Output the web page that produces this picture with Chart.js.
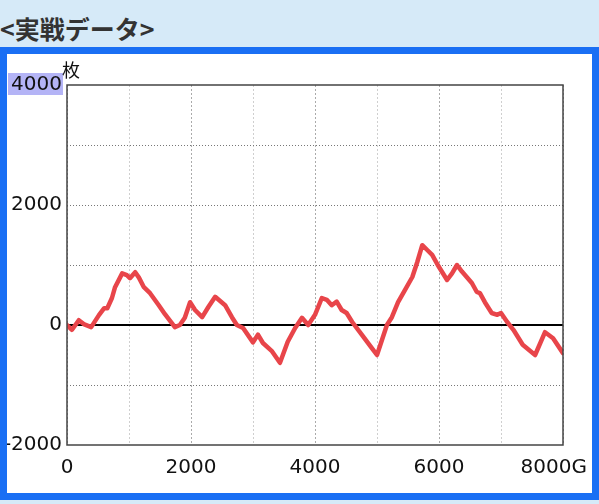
<!DOCTYPE html>
<html lang="ja">
<head>
<meta charset="utf-8">
<script src="https://cdn.jsdelivr.net/npm/chart.js@4.4.1/dist/chart.umd.min.js"></script>
<style>
  html, body { margin: 0; padding: 0; background: #d6eaf8; }
  #wrap { position: relative; width: 599px; height: 504px; overflow: hidden; }
  .title { position: absolute; left: 0; top: 0; padding-top: 10px; line-height: 28px;
           font: bold 25px "Noto Sans CJK JP", sans-serif; color: #333; white-space: nowrap; }
  .box { position: absolute; left: 0; top: 47px; width: 585px; height: 439px;
         border: 7px solid #1a6ff4; background: #fff; }
  .frame { position: absolute; left: 0; top: 47px; width: 585px; height: 439px;
           border: 7px solid #1a6ff4; z-index: 2; }
  #chart { position: absolute; left: 0; top: 0; z-index: 1; }
</style>
</head>
<body>
<div id="wrap">
  <div class="title">&lt;実戦データ&gt;</div>
  <div class="box"></div>
  <canvas id="chart" width="599" height="504"></canvas>
  <div class="frame"></div>
</div>
<script>
// game count (G) and coin balance (枚)
const games = [0, 80, 190, 270, 390, 515, 600, 650, 725, 775, 890, 965, 1015, 1100, 1160, 1240,
  1340, 1480, 1580, 1740, 1820, 1900, 1985, 2065, 2180, 2280, 2390, 2550, 2660, 2740, 2840,
  3000, 3080, 3160, 3300, 3435, 3560, 3680, 3790, 3890, 4000, 4110, 4190, 4270, 4350, 4430,
  4510, 4600, 4760, 4920, 5000, 5080, 5160, 5240, 5340, 5450, 5570, 5650, 5730, 5810, 5890,
  5980, 6130, 6210, 6290, 6370, 6530, 6610, 6660, 6740, 6850, 6940, 7000, 7100, 7200, 7350,
  7550, 7710, 7840, 8000];
const coins = [0, -80, 80, 15, -35, 165, 280, 280, 450, 630, 860, 830, 780, 880, 790, 630,
  530, 330, 180, -35, 0, 120, 380, 250, 130, 300, 470, 330, 130, 0, -50,
  -290, -160, -300, -430, -630, -280, -50, 120, 0, 170, 450, 420, 330, 390, 250,
  200, 50, -170, -390, -500, -250, 0, 130, 380, 580, 800, 1050, 1330, 1250, 1170,
  1000, 750, 860, 1000, 890, 700, 550, 530, 380, 200, 170, 200, 50, -80, -330,
  -500, -120, -220, -470];

const xTicks = [0, 2000, 4000, 6000, 8000];
const xLabels = ["0", "2000", "4000", "6000", "8000G"];
const yTicks = [4000, 2000, 0, -2000];
const yLabels = ["4000", "2000", "0", "-2000"];
const yUnit = "枚";

const labelFont = '20px "DejaVu Sans", sans-serif';

// zero line under the data, frame and tick texts on top
const axisText = {
  id: "axisText",
  beforeDatasetsDraw(chart) {
    const { ctx, chartArea: a, scales: { y } } = chart;
    const py = y.getPixelForValue(0);
    ctx.save();
    ctx.strokeStyle = "#000";
    ctx.lineWidth = 2;
    ctx.beginPath();
    ctx.moveTo(a.left, py);
    ctx.lineTo(a.right, py);
    ctx.stroke();
    ctx.restore();
  },
  afterDraw(chart) {
    const { ctx, chartArea: a, scales: { x, y } } = chart;
    ctx.save();
    ctx.strokeStyle = "#444";
    ctx.lineWidth = 1.5;
    ctx.strokeRect(a.left, a.top, a.right - a.left, a.bottom - a.top);

    ctx.font = labelFont;
    ctx.textBaseline = "middle";
    ctx.textAlign = "right";
    yTicks.forEach((v, i) => {
      const py = y.getPixelForValue(v);
      if (i === 0) {
        ctx.fillStyle = "#b4b4f6";
        ctx.fillRect(a.left - 59, py - 12, 55, 22);
      }
      ctx.fillStyle = "#111";
      ctx.fillText(yLabels[i], a.left - 5, py);
    });

    xTicks.forEach((v, i) => {
      const px = x.getPixelForValue(v);
      ctx.fillStyle = "#111";
      if (i === xTicks.length - 1) {
        ctx.textAlign = "right";
        ctx.fillText(xLabels[i], px + 24, a.bottom + 23);
      } else {
        ctx.textAlign = "center";
        ctx.fillText(xLabels[i], px, a.bottom + 23);
      }
    });

    ctx.font = '18px "Noto Sans CJK JP", sans-serif';
    ctx.textAlign = "left";
    ctx.fillText(yUnit, a.left - 5, a.top - 15);
    ctx.restore();
  }
};

new Chart(document.getElementById("chart"), {
  type: "line",
  data: {
    datasets: [{
      data: games.map((g, i) => ({ x: g, y: coins[i] })),
      borderColor: "#e8454a",
      borderWidth: 4.5,
      borderJoinStyle: "round",
      borderCapStyle: "round",
      pointRadius: 0,
      tension: 0,
      fill: false
    }]
  },
  options: {
    responsive: false,
    animation: false,
    layout: { padding: { left: 67, top: 85, right: 36, bottom: 59 } },
    plugins: { legend: { display: false }, tooltip: { enabled: false } },
    scales: {
      x: {
        type: "linear",
        min: 0,
        max: 8000,
        ticks: { display: false, stepSize: 1000 },
        grid: {
          drawTicks: false,
          lineWidth: 1,
          color: (c) => (c.tick.value % 2000 === 0 ? "#aaa" : "#cfcfcf")
        },
        border: { display: false, dash: [2, 2] }
      },
      y: {
        min: -2000,
        max: 4000,
        ticks: { display: false, stepSize: 1000 },
        grid: {
          drawTicks: false,
          lineWidth: 1,
          color: (c) => ([0, 4000, -2000].includes(c.tick.value) ? "rgba(0,0,0,0)" : "#777")
        },
        border: { display: false, dash: [1, 2] }
      }
    }
  },
  plugins: [axisText]
});
</script>
</body>
</html>
